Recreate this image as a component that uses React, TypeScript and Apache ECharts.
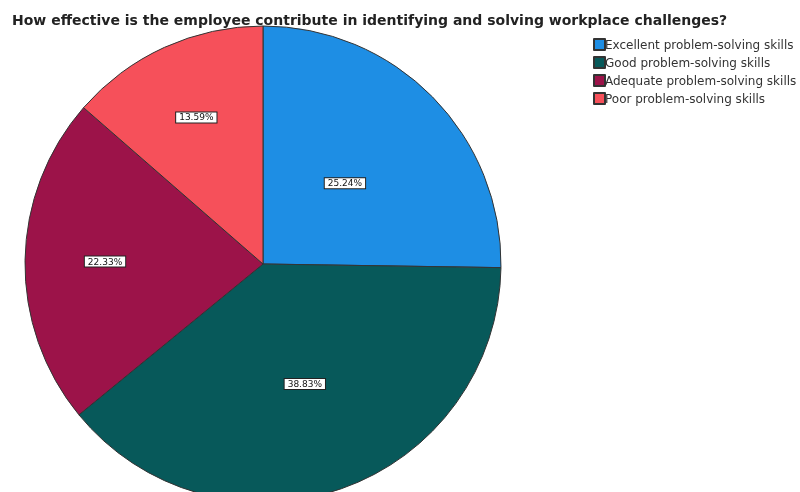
import React, { useEffect, useRef } from "react";
import * as echarts from "echarts";

const titleText =
  "How effective is the employee contribute in identifying and solving workplace challenges?";
const categories = [
  "Excellent problem-solving skills",
  "Good problem-solving skills",
  "Adequate problem-solving skills",
  "Poor problem-solving skills",
];
const percents = [25.24, 38.83, 22.33, 13.59];
const colors = ["#1e8ee4", "#07595a", "#9c1349", "#f6505a"];

// layout: distance of each slice's label from the pie centre (px)
const LABEL_DIST = [112, 124, 155, 158];
const CENTER = [263, 264];
const RADIUS = 238;

export default function App() {
  const ref = useRef<HTMLDivElement>(null);
  useEffect(() => {
    if (!ref.current) return;
    const chart = echarts.init(ref.current, null, { renderer: "svg" });
    const font = "'DejaVu Sans', Verdana, sans-serif";
    const labelStyle = {
      show: true,
      position: "inside",
      formatter: (p: any) => p.value.toFixed(2) + "%",
      fontSize: 9,
      fontFamily: font,
      color: "#111",
      backgroundColor: "#ffffff",
      borderColor: "#222",
      borderWidth: 1,
      padding: [1, 3, 0, 3],
    };
    const labelSeries = LABEL_DIST.map((d, k) => ({
      type: "pie",
      center: CENTER,
      radius: [0, d * 2],
      startAngle: 90,
      clockwise: true,
      silent: true,
      z: 5,
      legendHoverLink: false,
      itemStyle: { color: "rgba(0,0,0,0)", borderWidth: 0 },
      label: labelStyle,
      labelLine: { show: false },
      data: categories.map((c, i) => ({
        name: c + " #" + k,
        value: percents[i],
        label: { show: i === k },
      })),
    }));
    chart.setOption({
      animation: false,
      title: {
        text: titleText,
        left: 7,
        top: 8,
        textStyle: {
          fontSize: 14,
          fontWeight: "bold",
          fontFamily: font,
          color: "#222",
        },
      },
      legend: {
        orient: "vertical",
        left: 588,
        top: 33,
        itemWidth: 11,
        itemHeight: 11,
        itemGap: 5,
        icon: "rect",
        data: categories,
        textStyle: { fontSize: 12, fontFamily: font, color: "#333", padding: [0, 0, 0, -5] },
      },
      series: [
        {
          type: "pie",
          center: CENTER,
          radius: [0, RADIUS],
          startAngle: 90,
          clockwise: true,
          silent: true,
          itemStyle: { borderColor: "#333", borderWidth: 1 },
          label: { show: false },
          labelLine: { show: false },
          data: categories.map((c, i) => ({
            name: c,
            value: percents[i],
            itemStyle: { color: colors[i] },
          })),
        },
        ...labelSeries,
      ],
    });
    return () => chart.dispose();
  }, []);
  return (
    <div
      ref={ref}
      style={{ position: "fixed", left: 0, top: 0, width: 800, height: 492 }}
    />
  );
}
